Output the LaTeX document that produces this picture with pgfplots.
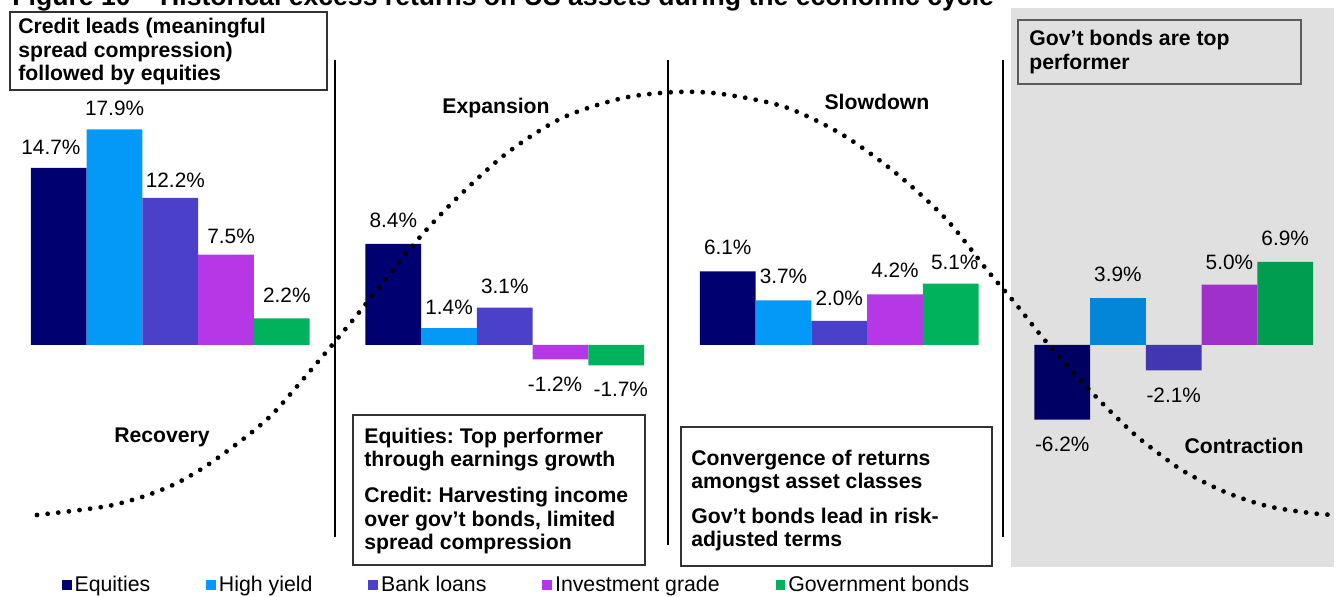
\documentclass[border=0pt]{standalone}
\usepackage{fontspec}
\setmainfont{Liberation Sans}
\usepackage{pgfplots}
\usepackage{pgfplotstable}
\pgfplotsset{compat=1.18}
\frenchspacing

\definecolor{cEq}{RGB}{0,0,112}
\definecolor{cHY}{RGB}{5,153,247}
\definecolor{cBL}{RGB}{74,64,202}
\definecolor{cIG}{RGB}{182,55,230}
\definecolor{cGB}{RGB}{0,178,92}
\definecolor{boxline}{RGB}{50,50,50}

% x = 6*phase + asset, dx/dy = label nudge in pt
\pgfplotstableread{
x y dx dy
0 14.7 -4 6.7
6 8.4 0 8.3
12 6.1 0 8.3
18 -6.2 0 -15.7
}\eqdata
\pgfplotstableread{
x y dx dy
1 17.9 0 6.7
7 1.4 0 6.7
13 3.7 0 8.3
19 3.9 0 8.3
}\hydata
\pgfplotstableread{
x y dx dy
2 12.2 2.5 5.3
8 3.1 0 7.3
14 2.0 0 7.8
20 -2.1 0 -16.1
}\bldata
\pgfplotstableread{
x y dx dy
3 7.5 2.5 5.5
9 -1.2 -2.75 -16.1
15 4.2 0 8.3
21 5.0 0 7.5
}\igdata
\pgfplotstableread{
x y dx dy
4 2.2 2.5 8
10 -1.7 2.25 -15.4
16 5.1 2 7
22 6.9 0 8
}\gbdata

\tikzset{
  btxt/.style={font=\fontsize{10.6}{11.75}\selectfont\bfseries, anchor=base west, inner sep=0pt},
  phase/.style={font=\fontsize{10.6}{11.75}\selectfont\bfseries, anchor=base, inner sep=0pt},
}

\begin{document}
\begin{tikzpicture}
\useasboundingbox (0,0) rectangle (669.5pt,298pt);

\begin{axis}[
  at={(0,0)}, anchor=south west, scale only axis,
  width=669.5pt, height=298pt,
  xmin=-1.056, xmax=22.966, ymin=-20.83, ymax=28.63,
  hide axis, clip=false,
  every axis plot/.append style={ybar, bar width=1, bar shift=0pt, draw=none,
    legend image code/.code={\fill[##1] (0pt,-2.6pt) rectangle (4.8pt,2.6pt);}},
  point meta=y,
  nodes near coords={\pgfmathprintnumber[fixed,fixed zerofill,precision=1,assume math mode=true]{\pgfplotspointmeta}\%},
  visualization depends on={\thisrow{dx} \as \ldx},
  visualization depends on={\thisrow{dy} \as \ldy},
  every node near coord/.append style={anchor=base, inner sep=0pt,
    xshift=\ldx pt, yshift=\ldy pt, text=black, font=\fontsize{10.4}{12}\selectfont},
  legend columns=5,
  legend cell align=left,
  legend style={at={(0.0463,0.0185)}, anchor=west, draw=none, fill=none,
    inner sep=0pt, outer sep=0pt, nodes={inner sep=0pt},
    font=\fontsize{10.65}{12}\selectfont,
    /tikz/every even column/.append style={column sep=28pt},
    /tikz/every odd column/.append style={column sep=1.5pt}},
]
\addplot[fill=cEq] table[x=x,y=y] {\eqdata};
\addplot[fill=cHY] table[x=x,y=y] {\hydata};
\addplot[fill=cBL] table[x=x,y=y] {\bldata};
\addplot[fill=cIG] table[x=x,y=y] {\igdata};
\addplot[fill=cGB] table[x=x,y=y] {\gbdata};
\legend{Equities, High yield, Bank loans, Investment grade, Government bonds}
\end{axis}

% overlay in picture pixels: shading, separators, cycle curve, notes
\begin{axis}[
  at={(0,0)}, anchor=south west, scale only axis,
  width=669.5pt, height=298pt,
  xmin=0, xmax=1339, ymin=0, ymax=596, y dir=reverse,
  hide axis, clip=false,
]
\fill[black, fill opacity=0.12] (axis cs:1011,8) rectangle (axis cs:1334,567);

\draw[line width=1pt] (axis cs:335,60) -- (axis cs:335,537);
\draw[line width=1pt] (axis cs:668,60) -- (axis cs:668,545);
\draw[line width=1pt] (axis cs:1003,60) -- (axis cs:1003,537);

\addplot[smooth, black, line width=2.4pt, line cap=round, dash pattern=on 0pt off 5.35pt]
  coordinates {
  (37,515) (80,510) (113,505) (145,496) (175,484) (203,468) (230,449) (257,428)
  (280,406) (343,332) (385,280) (420,237) (458,197) (507,153) (562,118) (623,98)
  (677,92) (722,94) (785,107) (843,135) (897,174) (947,220) (987,270) (1015,303)
  (1043,338) (1072,371) (1102,403) (1133,433) (1158,453) (1185,472) (1225,492)
  (1267,506) (1310,513) (1334,515)
  };

\node[anchor=base west, inner sep=0pt, font=\fontsize{13.3}{15}\selectfont\bfseries]
  at (axis cs:12,5) {Figure 10 -- Historical excess returns on US assets during the economic cycle};

% boxes
\draw[line width=0.8pt, boxline] (axis cs:10,12) rectangle (axis cs:327,90);
\draw[line width=0.8pt, boxline] (axis cs:353,415) rectangle (axis cs:645,565);
\draw[line width=0.8pt, boxline] (axis cs:681,427) rectangle (axis cs:992,566);
\draw[line width=0.8pt, boxline!80] (axis cs:1018,20) rectangle (axis cs:1301,84);

\node[btxt] at (axis cs:18,33) {Credit leads (meaningful};
\node[btxt] at (axis cs:18,57) {spread compression)};
\node[btxt] at (axis cs:18,80) {followed by equities};

\node[btxt] at (axis cs:364,443) {Equities: Top performer};
\node[btxt] at (axis cs:364,466) {through earnings growth};
\node[btxt] at (axis cs:364,502) {Credit: Harvesting income};
\node[btxt] at (axis cs:364,526) {over gov't bonds, limited};
\node[btxt] at (axis cs:364,549) {spread compression};

\node[btxt] at (axis cs:691,465) {Convergence of returns};
\node[btxt] at (axis cs:691,488) {amongst asset classes};
\node[btxt] at (axis cs:691,523) {Gov't bonds lead in risk-};
\node[btxt] at (axis cs:691,546) {adjusted terms};

\node[btxt] at (axis cs:1029,45) {Gov't bonds are top};
\node[btxt] at (axis cs:1029,69) {performer};

\node[phase] at (axis cs:162,442) {Recovery};
\node[phase] at (axis cs:496,113) {Expansion};
\node[phase] at (axis cs:877,109) {Slowdown};
\node[phase] at (axis cs:1244,453) {Contraction};
\end{axis}
\end{tikzpicture}
\end{document}
